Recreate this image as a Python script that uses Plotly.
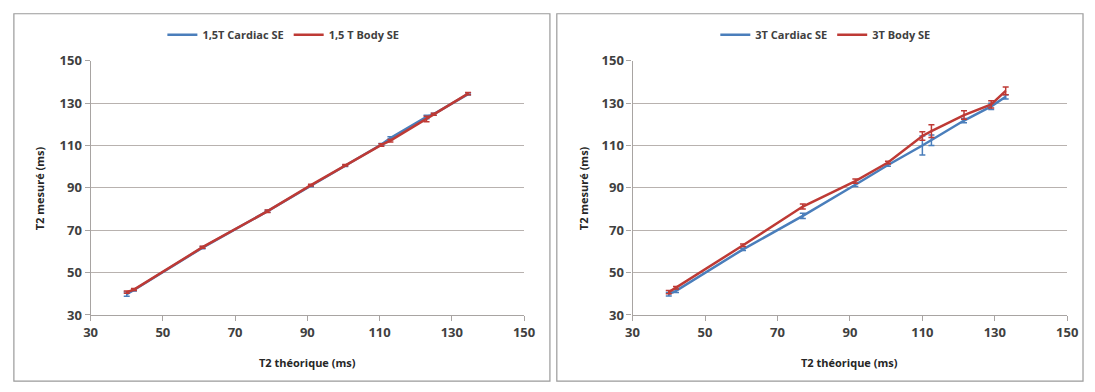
import plotly.graph_objects as go

# ---- data ----
x_15 = [40, 42, 61, 79, 91, 100.5, 110.5, 113, 123, 125, 134.5]
cardiac_15 = [39.8, 41.8, 61.8, 79, 91, 100.5, 110.5, 113.5, 123.5, 124.8, 134.3]
cardiac_15_err = [1.0, 0.5, 0.5, 0.5, 0.5, 0.4, 0.5, 0.6, 0.8, 0.5, 0.5]
body_15 = [40.8, 42.0, 62.0, 79.0, 91.3, 100.7, 110.3, 112.3, 122.5, 124.8, 134.5]
body_15_err = [0.5, 0.5, 0.5, 0.6, 0.4, 0.4, 0.6, 0.6, 1.3, 0.5, 0.5]

x_3 = [40, 42, 60.5, 77, 91.5, 100.5, 110, 112.5, 121.5, 129, 133]
cardiac_3 = [39.8, 41.4, 61.0, 76.8, 91.5, 100.8, 110.0, 112.5, 121.8, 128.5, 133.0]
cardiac_3_err = [0.8, 0.8, 0.5, 1.2, 0.8, 0.6, 4.5, 2.5, 1.0, 1.5, 1.0]
body_3 = [40.8, 42.9, 62.9, 81.2, 93.2, 102.0, 114.5, 116.8, 124.4, 129.4, 135.8]
body_3_err = [0.8, 0.6, 0.6, 1.2, 1.0, 0.6, 2.0, 3.0, 2.0, 1.7, 1.8]

names_15 = ["1,5T Cardiac SE", "1,5 T Body SE"]
names_3 = ["3T Cardiac SE", "3T Body SE"]
axis_ticks = [30, 50, 70, 90, 110, 130, 150]
x_title = "T2 théorique (ms)"
y_title = "T2 mesuré (ms)"

BLUE = "#4A7EBB"
RED = "#BE3A35"
W, H = 1095, 392

fig = go.Figure()

def add_series(x, y, err, name, color, xa, ya, legend):
    fig.add_trace(go.Scatter(
        x=x, y=y, name=name, mode="lines",
        line=dict(color=color, width=2.5),
        error_y=dict(type="data", array=err, visible=True, color=color,
                     thickness=1.5, width=3),
        xaxis=xa, yaxis=ya, legend=legend,
    ))

add_series(x_15, cardiac_15, cardiac_15_err, names_15[0], BLUE, "x", "y", "legend")
add_series(x_15, body_15, body_15_err, names_15[1], RED, "x", "y", "legend")
add_series(x_3, cardiac_3, cardiac_3_err, names_3[0], BLUE, "x2", "y2", "legend2")
add_series(x_3, body_3, body_3_err, names_3[1], RED, "x2", "y2", "legend2")

tickfont = dict(family="Open Sans", size=13, color="#404040", weight="bold")
titlefont = dict(family="Open Sans", size=11, color="#262626", weight="bold")
legfont = dict(family="Open Sans", size=11, color="#404040", weight="bold")

y_bottom = 1 - 320.7 / H
y_top = 1 - 54.3 / H
dom1 = [85 / W, 525.7 / W]
dom2 = [636 / W, 1078 / W]

common_x = dict(range=[30, 150], tickvals=axis_ticks, showgrid=False,
                showline=True, linecolor="#a8a4a2", linewidth=1.2,
                ticks="outside", ticklen=5, tickcolor="#a8a4a2",
                tickfont=tickfont, zeroline=False, fixedrange=True)
common_y = dict(range=[30, 150], tickvals=axis_ticks, showgrid=True,
                gridcolor="#b8b2af", gridwidth=1.2,
                showline=True, linecolor="#a8a4a2", linewidth=1.2,
                ticks="outside", ticklen=5, tickcolor="#a8a4a2",
                tickfont=tickfont, zeroline=False, fixedrange=True)

fig.update_layout(
    width=W, height=H,
    margin=dict(l=0, r=0, t=0, b=0),
    paper_bgcolor="white", plot_bgcolor="white",
    xaxis=dict(domain=dom1, anchor="y", **common_x),
    yaxis=dict(domain=[y_bottom, y_top], anchor="x", **common_y),
    xaxis2=dict(domain=dom2, anchor="y2", **common_x),
    yaxis2=dict(domain=[y_bottom, y_top], anchor="x2", **common_y),
    legend=dict(orientation="h", x=281 / W, xanchor="center",
                y=1 - 27 / H, yanchor="middle", font=legfont,
                itemwidth=30, bgcolor="rgba(0,0,0,0)"),
    legend2=dict(orientation="h", x=832 / W, xanchor="center",
                 y=1 - 27 / H, yanchor="middle", font=legfont,
                 itemwidth=30, bgcolor="rgba(0,0,0,0)"),
    showlegend=True,
)

# panel borders
for x0, x1 in [(7, 552), (559, 1094)]:
    fig.add_shape(type="rect", xref="paper", yref="paper",
                  x0=x0 / W, x1=x1 / W, y0=1 - 390 / H, y1=1 - 5 / H,
                  line=dict(color="#9a9a9a", width=1.2), layer="below")

# axis titles
for cx, ax in [((85 + 525.7) / 2, 33), ((636 + 1078) / 2, 587)]:
    fig.add_annotation(text=x_title, xref="paper", yref="paper",
                       x=cx / W, y=1 - 370 / H, showarrow=False,
                       font=titlefont, xanchor="center", yanchor="middle")
    fig.add_annotation(text=y_title, xref="paper", yref="paper",
                       x=ax / W, y=1 - 187.5 / H, showarrow=False,
                       font=titlefont, textangle=-90,
                       xanchor="center", yanchor="middle")

fig.write_html(
    "out.html",
    config={"displayModeBar": False},
    post_script="document.body.style.margin='0';document.body.style.overflow='hidden';",
)
